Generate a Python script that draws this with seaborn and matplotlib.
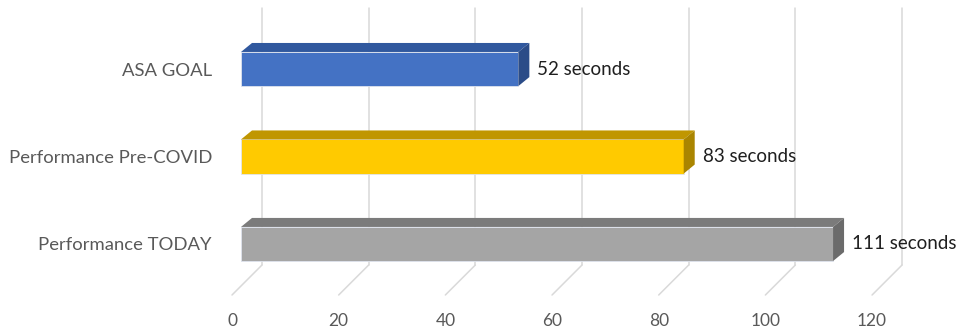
import matplotlib
matplotlib.use("Agg")
import matplotlib.pyplot as plt
from matplotlib.patches import Polygon
import pandas as pd
import seaborn as sns

sns.set_theme(style="white")
plt.rcParams["font.family"] = ["Lato", "DejaVu Sans"]

# data
categories = ["ASA GOAL", "Performance Pre-COVID", "Performance TODAY"]
seconds = [52, 83, 111]
value_labels = ["52 seconds", "83 seconds", "111 seconds"]
xticks = [0, 20, 40, 60, 80, 100, 120]

front_colors = ["#4472C4", "#FFCA00", "#A5A5A5"]
top_colors = ["#30589E", "#C09600", "#7B7B7B"]
side_colors = ["#2B4C88", "#AA8500", "#6B6B6B"]

df = pd.DataFrame({"category": categories, "seconds": seconds})

W, H = 965, 332
fig = plt.figure(figsize=(W / 100, H / 100), dpi=100)
ax = fig.add_axes([225 / W, 0, 735 / W, 1])

sns.barplot(data=df, x="seconds", y="category", hue="category",
            palette=front_colors, orient="h", width=0.39, saturation=1,
            legend=False, ax=ax, zorder=3)
ax.set_xlim(-3.0, 134.8)
ax.set_ylim(3.006, -0.789)


def from_px(px, py):
    # image pixel (from top-left) -> data coords
    return ax.transData.inverted().transform((px, H - py))


def px_delta(dx, dy):
    x0, y0 = from_px(0, 0)
    x1, y1 = from_px(dx, dy)
    return x1 - x0, y1 - y0


# 3d depth of bars
ddx, ddy = px_delta(11, -9)
for p, tc, sc in zip(ax.patches, top_colors, side_colors):
    x, y, w, h = p.get_x(), p.get_y(), p.get_width(), p.get_height()
    top = [(x, y), (x + w, y), (x + w + ddx, y + ddy), (x + ddx, y + ddy)]
    side = [(x + w, y), (x + w, y + h), (x + w + ddx, y + h + ddy), (x + w + ddx, y + ddy)]
    ax.add_patch(Polygon(top, closed=True, facecolor=tc, edgecolor="none", zorder=3))
    ax.add_patch(Polygon(side, closed=True, facecolor=sc, edgecolor="none", zorder=3))
    p.set_edgecolor("#dfe4ee")
    p.set_linewidth(0.6)

# back wall gridlines and floor lines
front_off = px_delta(-9, 0)[0]
back_off = px_delta(21, 0)[0]
y_grid_top = from_px(0, 8)[1]
y_floor_back = from_px(0, 265)[1]
y_floor_front = from_px(0, 295)[1]
y_labels = from_px(0, 321)[1]
for t in xticks:
    ax.plot([t + back_off, t + back_off], [y_grid_top, y_floor_back],
            color="#D9D9D9", lw=1.1, zorder=1)
    ax.plot([t + front_off, t + back_off], [y_floor_front, y_floor_back],
            color="#D9D9D9", lw=1.1, zorder=1)
    ax.text(t + front_off, y_labels, str(t), ha="center", va="center",
            color="#595959", fontsize=12.5)

# value labels
lab_off = px_delta(19, 0)[0]
for i, (v, lab) in enumerate(zip(seconds, value_labels)):
    ax.text(v + lab_off, i, lab, ha="left", va="center",
            color="#1f1f1f", fontsize=13.5, zorder=4)

ax.set_xticks([])
ax.set_yticks(range(len(categories)))
ax.set_yticklabels(categories)
ax.tick_params(axis="y", length=0, pad=9.4, labelsize=13.3, labelcolor="#595959")
ax.set_xlabel("")
ax.set_ylabel("")
sns.despine(ax=ax, left=True, bottom=True)

fig.savefig("out.png", dpi=100)
